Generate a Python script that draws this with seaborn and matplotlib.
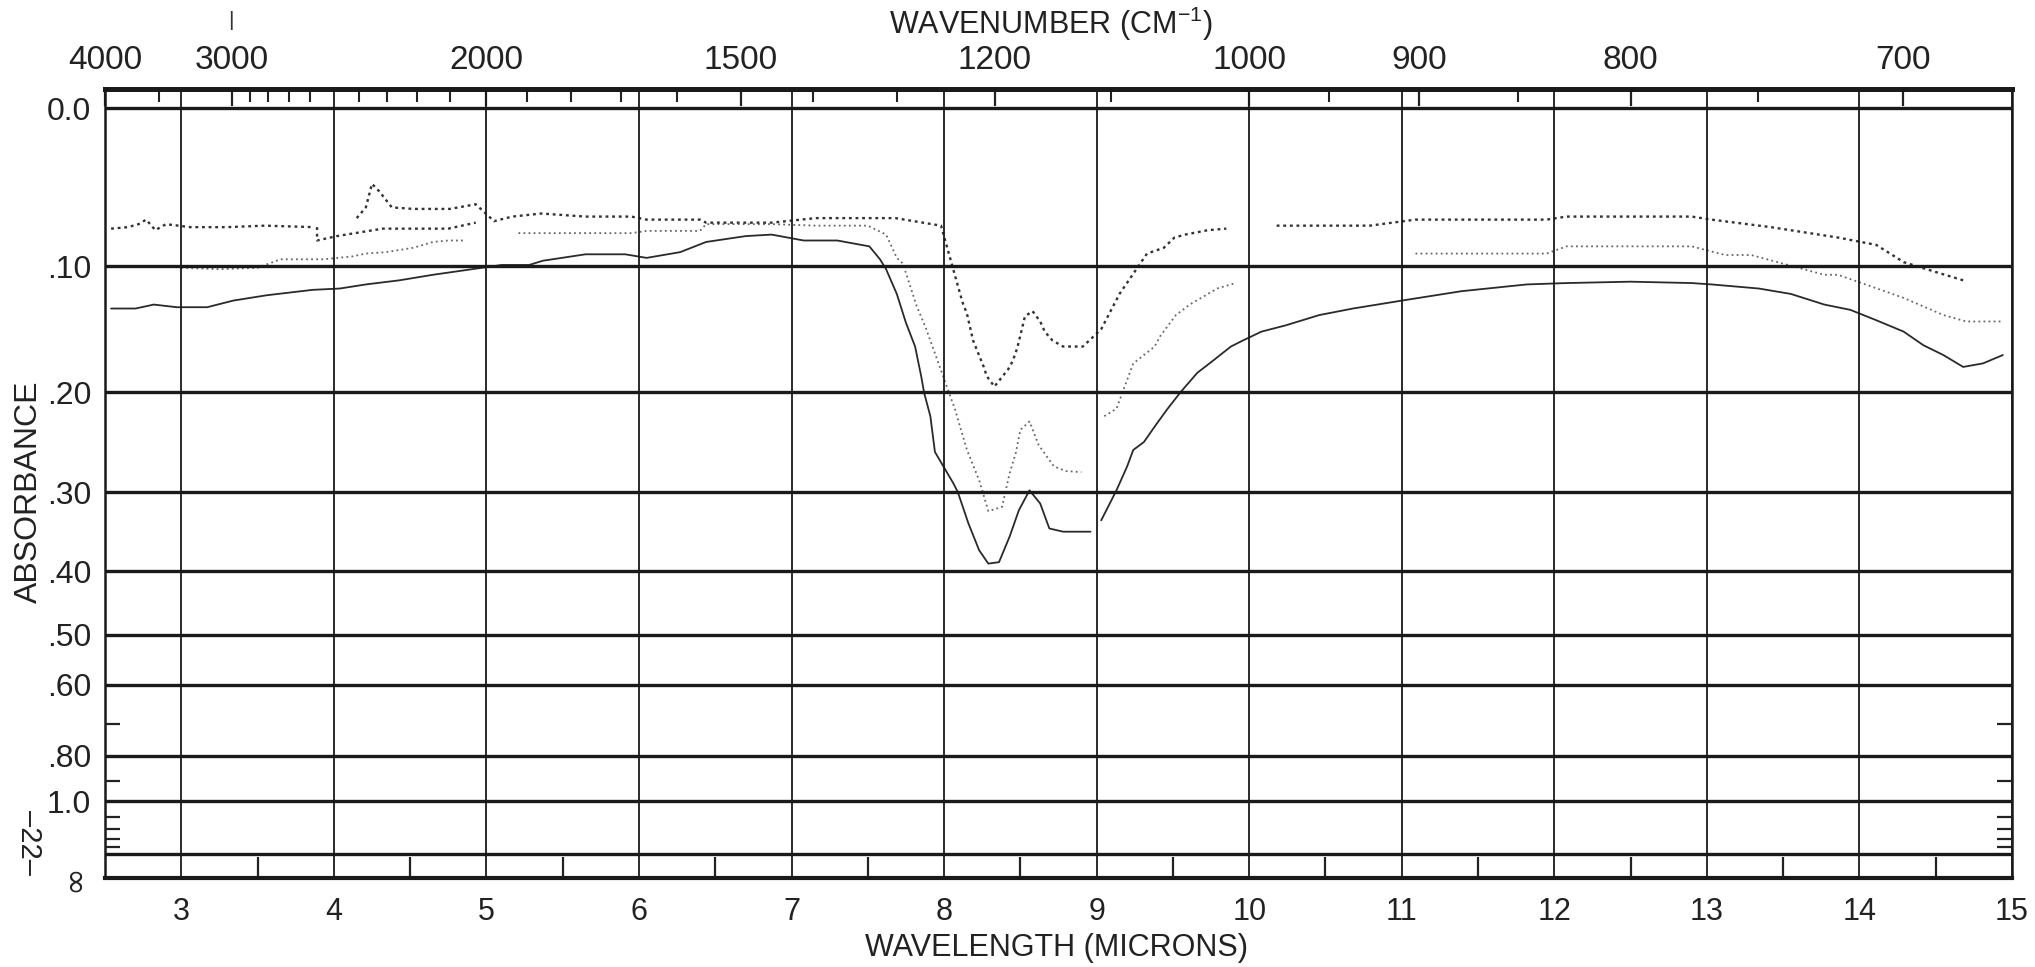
import numpy as np
import pandas as pd
import matplotlib
matplotlib.use("Agg")
import matplotlib.pyplot as plt
import seaborn as sns
from matplotlib.ticker import FixedLocator, FixedFormatter, NullFormatter

# ---------------- data (wavelength in microns, absorbance) ----------------
top_x = [2.54, 2.65, 2.72, 2.77, 2.83, 2.90, 3.06, 3.30, 3.55, 3.87, np.nan,
         4.15, 4.21, 4.25, 4.30, 4.34, 4.38, 4.52, 4.76, 4.93, 5.05, 5.17, 5.36,
         5.65, 5.95, 6.05, 6.40, 6.44, 6.87, 7.16, 7.68, 7.98, 8.12, 8.15, 8.19,
         8.26, 8.28, 8.33, 8.42, 8.45, 8.48, 8.50, 8.53, 8.58, 8.63, 8.66, 8.71,
         8.78, 8.91, 9.03, 9.15, 9.33, 9.44, 9.51, 9.58, 9.73, 9.85, np.nan,
         10.18, 10.79, 11.09, 11.95, 12.08, 12.90, 13.03, 13.42, 13.86, 14.11,
         14.29, 14.50, 14.68]
top_a = [0.074, 0.073, 0.071, 0.068, 0.075, 0.071, 0.073, 0.073, 0.072, 0.073, np.nan,
         0.067, 0.060, 0.045, 0.050, 0.055, 0.060, 0.061, 0.061, 0.058, 0.069, 0.066, 0.064,
         0.066, 0.066, 0.068, 0.068, 0.070, 0.070, 0.067, 0.067, 0.072, 0.126, 0.135, 0.156,
         0.178, 0.186, 0.195, 0.180, 0.173, 0.162, 0.152, 0.137, 0.133, 0.141, 0.149, 0.156,
         0.161, 0.161, 0.147, 0.120, 0.091, 0.087, 0.080, 0.078, 0.075, 0.074, np.nan,
         0.072, 0.072, 0.068, 0.068, 0.066, 0.066, 0.068, 0.073, 0.080, 0.085,
         0.097, 0.104, 0.110]

mid_x = [3.00, 3.25, 3.50, 3.65, 3.93, 4.12, 4.21, 4.34, 4.52, 4.65, 4.75, 4.86, np.nan,
         5.21, 5.41, 5.65, 5.95, 6.05, 6.40, 6.44, 6.87, 7.16, 7.50, 7.62, 7.69, 7.73,
         7.82, 7.88, 8.07, 8.15, 8.23, 8.29, 8.38, 8.43, 8.47, 8.50, 8.56, 8.62, 8.72,
         8.80, 8.90, np.nan, 9.05, 9.13, 9.24, 9.32, 9.38, 9.42, 9.52, 9.61, 9.70, 9.79,
         9.91, np.nan, 11.09, 11.95, 12.08, 12.90, 13.12, 13.29, 13.77, 13.86, 14.29,
         14.55, 14.70, 14.94]
mid_a = [0.101, 0.102, 0.101, 0.095, 0.095, 0.093, 0.091, 0.090, 0.087, 0.083, 0.082, 0.082, np.nan,
         0.077, 0.077, 0.077, 0.077, 0.0755, 0.0755, 0.071, 0.071, 0.072, 0.072, 0.078, 0.094, 0.098,
         0.129, 0.146, 0.215, 0.255, 0.287, 0.322, 0.317, 0.279, 0.258, 0.235, 0.227, 0.250, 0.272,
         0.277, 0.278, np.nan, 0.222, 0.215, 0.175, 0.167, 0.161, 0.152, 0.136, 0.128, 0.122, 0.116,
         0.112, np.nan, 0.091, 0.091, 0.086, 0.086, 0.092, 0.092, 0.106, 0.106, 0.123,
         0.136, 0.141, 0.141]

low_x = [2.54, 2.70, 2.82, 2.97, 3.06, 3.17, 3.34, 3.56, 3.86, 4.04, 4.21, 4.43, 4.65,
         4.97, 5.10, 5.28, 5.37, 5.65, 5.91, 6.05, 6.27, 6.44, 6.70, 6.87, 7.08, 7.30,
         7.51, 7.58, 7.62, 7.69, 7.75, 7.81, 7.85, 7.87, 7.91, 7.94, 8.06, 8.09, 8.16,
         8.23, 8.29, 8.36, 8.43, 8.49, 8.56, 8.63, 8.69, 8.78, 8.96, np.nan, 9.03, 9.13,
         9.20, 9.24, 9.31, 9.38, 9.46, 9.55, 9.66, 9.75, 9.88, 9.96, 10.08, 10.24, 10.46,
         10.68, 11.00, 11.39, 11.82, 12.08, 12.50, 12.90, 13.03, 13.34, 13.55, 13.77,
         13.94, 14.11, 14.29, 14.42, 14.55, 14.68, 14.81, 14.94]
low_a = [0.131, 0.131, 0.128, 0.130, 0.130, 0.130, 0.125, 0.121, 0.117, 0.116, 0.113, 0.110, 0.106,
         0.101, 0.099, 0.099, 0.096, 0.0915, 0.0915, 0.094, 0.090, 0.083, 0.079, 0.078, 0.082, 0.082,
         0.086, 0.095, 0.102, 0.120, 0.142, 0.161, 0.186, 0.201, 0.222, 0.257, 0.290, 0.300, 0.337,
         0.371, 0.389, 0.387, 0.353, 0.321, 0.298, 0.313, 0.343, 0.347, 0.347, np.nan, 0.333, 0.298,
         0.272, 0.255, 0.247, 0.232, 0.216, 0.200, 0.183, 0.174, 0.161, 0.156, 0.149, 0.144, 0.136,
         0.131, 0.125, 0.118, 0.113, 0.112, 0.111, 0.112, 0.113, 0.116, 0.120, 0.128,
         0.132, 0.140, 0.149, 0.160, 0.168, 0.178, 0.175, 0.168]

frag_x = [3.89, 3.89, 4.02, 4.32, 4.75, 4.93]
frag_a = [0.073, 0.082, 0.079, 0.074, 0.074, 0.070]

# axis tick values / labels
abs_ticks = [0.0, 0.10, 0.20, 0.30, 0.40, 0.50, 0.60, 0.80, 1.0, 1.5, 5.0]
abs_labels = ["0.0", ".10", ".20", ".30", ".40", ".50", ".60", ".80", "1.0", "", ""]
abs_minor = [0.7, 0.9, 1.1, 1.2, 1.3, 1.4]
wl_ticks = list(range(3, 16))
wl_minor = [v + 0.5 for v in range(3, 15)]
wn_ticks = [4000, 3000, 2000, 1500, 1200, 1000, 900, 800, 700]
wn_minor = [3500, 2900, 2800, 2700, 2600, 2400, 2300, 2200, 2100, 1900, 1800, 1700,
            1600, 1400, 1300, 1100, 950, 850, 750]


def to_frame(xs, ys, name):
    rows, seg = [], 0
    for x, y in zip(xs, ys):
        if np.isnan(x):
            seg += 1
            continue
        rows.append((x, y, f"{name}{seg}"))
    return pd.DataFrame(rows, columns=["wl", "absorb", "seg"])


sns.set_theme(style="white")
plt.rcParams["font.family"] = ["Liberation Sans", "DejaVu Sans"]
plt.rcParams["mathtext.default"] = "regular"

W, H = 2035, 967
fig = plt.figure(figsize=(W / 100, H / 100), dpi=100)
fig.patch.set_facecolor("white")
ax = fig.add_axes([105 / W, 1 - 878 / H, (2012 - 105) / W, (878 - 89) / H])
ax.set_facecolor("white")


def fwd(a):
    return 1.0 - np.power(10.0, -np.asarray(a, dtype=float))


def inv(t):
    t = np.asarray(t, dtype=float)
    return -np.log10(np.clip(1.0 - t, 1e-12, None))


ax.set_yscale("function", functions=(fwd, inv))

styles = [
    (to_frame(low_x, low_a, "low"), dict(color="#2a2a2a", lw=1.3, ls="-")),
    (to_frame(mid_x, mid_a, "mid"), dict(color="#666666", lw=1.3, ls=(0, (1.0, 1.8)))),
    (to_frame(top_x, top_a, "top"), dict(color="#333333", lw=1.7, ls=(0, (1.2, 1.6)))),
    (to_frame(frag_x, frag_a, "frag"), dict(color="#333333", lw=1.7, ls=(0, (1.2, 1.6)))),
]
for df, st in styles:
    sns.lineplot(data=df, x="wl", y="absorb", units="seg", estimator=None, sort=False,
                 ax=ax, legend=False, color=st["color"], linewidth=st["lw"],
                 linestyle=st["ls"])

ax.set_xlim(2.5, 15)
ax.set_ylim(5.0, -0.0106)
ax.set_xlabel("")
ax.set_ylabel("")

# y ticks
ax.yaxis.set_major_locator(FixedLocator(abs_ticks))
ax.yaxis.set_major_formatter(FixedFormatter(abs_labels))
ax.yaxis.set_minor_locator(FixedLocator(abs_minor))
ax.yaxis.set_minor_formatter(NullFormatter())
ax.tick_params(axis="y", which="major", length=0, pad=10, labelsize=23, colors="#222222")
ax.tick_params(axis="y", which="minor", direction="in", length=11, width=1.6,
               left=True, right=True, color="#222222")

# x ticks (bottom)
ax.xaxis.set_major_locator(FixedLocator(wl_ticks))
ax.xaxis.set_major_formatter(FixedFormatter([str(v) for v in wl_ticks]))
ax.xaxis.set_minor_locator(FixedLocator(wl_minor))
ax.tick_params(axis="x", which="major", length=0, pad=14, labelsize=22, colors="#222222")
ax.tick_params(axis="x", which="minor", direction="in", length=15, width=1.6,
               bottom=True, color="#222222")

ax.grid(True, which="major", axis="y", color="#1a1a1a", lw=2.4)
ax.grid(True, which="major", axis="x", color="#1a1a1a", lw=1.3)
ax.set_axisbelow(False)

for side, lw in [("top", 3.5), ("bottom", 3.0), ("left", 1.8), ("right", 1.8)]:
    ax.spines[side].set_visible(True)
    ax.spines[side].set_color("#1a1a1a")
    ax.spines[side].set_linewidth(lw)


def recip(x):
    x = np.asarray(x, dtype=float)
    with np.errstate(divide="ignore", invalid="ignore"):
        return 1e4 / x


sec = ax.secondary_xaxis("top", functions=(recip, recip))
sec.xaxis.set_major_locator(FixedLocator(wn_ticks))
sec.xaxis.set_major_formatter(FixedFormatter([str(v) for v in wn_ticks]))
sec.xaxis.set_minor_locator(FixedLocator(wn_minor))
sec.xaxis.set_minor_formatter(NullFormatter())
sec.tick_params(which="major", direction="in", length=12, width=1.6, pad=9,
                labelsize=24, colors="#222222")
sec.tick_params(which="minor", direction="in", length=9, width=1.5, color="#222222")
sec.spines["top"].set_linewidth(3.5)
sec.spines["top"].set_color("#1a1a1a")

# infinity label at the bottom line
ax.text(-0.008, 5.0, "\u221e", transform=ax.get_yaxis_transform(), rotation=90,
        ha="right", va="center", fontsize=24, color="#222222", family="DejaVu Sans")

# titles and marks
fig.text(1051 / W, 1 - 24 / H, "WAVENUMBER (CM$^{-1}$)", ha="center", va="center",
         fontsize=22, color="#222222")
fig.text(1056 / W, 1 - 948 / H, "WAVELENGTH (MICRONS)", ha="center", va="center",
         fontsize=22, color="#222222")
fig.text(29 / W, 1 - 492 / H, "ABSORBANCE", rotation=90, ha="center", va="center",
         fontsize=23, color="#222222")
fig.text(29 / W, 1 - 843 / H, "\u201322\u2013", rotation=270, ha="center", va="center",
         fontsize=21, color="#222222")
fig.text(231 / W, 1 - 20 / H, "|", ha="center", va="center", fontsize=15, color="#333333")

fig.savefig("out.png", dpi=100, facecolor="white")
